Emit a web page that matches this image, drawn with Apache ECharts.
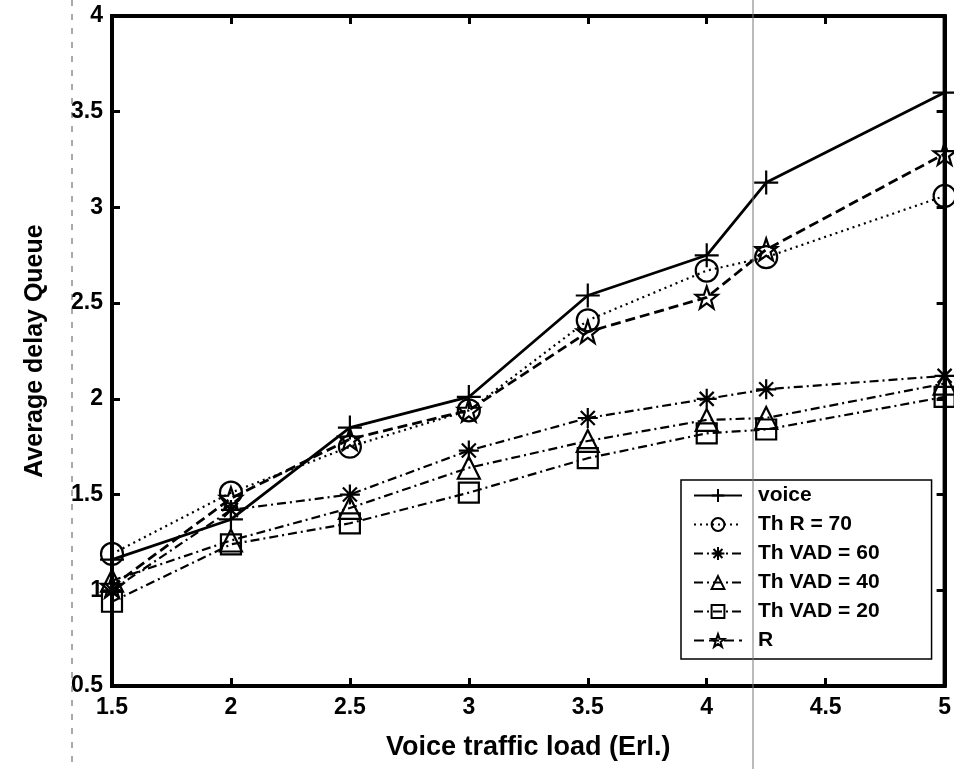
<!DOCTYPE html>
<html><head><meta charset="utf-8">
<script src="https://cdn.jsdelivr.net/npm/echarts@6/dist/echarts.min.js"></script>
<style>html,body{margin:0;padding:0;background:#fff}#c{width:954px;height:769px}</style>
</head><body><div id="c"></div>
<script>
const xValues = [1.5, 2, 2.5, 3, 3.5, 4, 4.25, 5];
const voice   = [1.16, 1.37, 1.85, 2.01, 2.54, 2.75, 3.13, 3.60];
const thR70   = [1.19, 1.51, 1.75, 1.94, 2.41, 2.67, 2.74, 3.06];
const thVAD60 = [1.00, 1.42, 1.50, 1.73, 1.90, 2.00, 2.05, 2.12];
const thVAD40 = [1.05, 1.26, 1.43, 1.64, 1.78, 1.89, 1.90, 2.08];
const thVAD20 = [0.94, 1.24, 1.35, 1.51, 1.69, 1.82, 1.84, 2.01];
const rSeries = [1.02, 1.48, 1.79, 1.94, 2.35, 2.53, 2.78, 3.28];
const seriesNames = ['voice', 'Th R = 70', 'Th VAD = 60', 'Th VAD = 40', 'Th VAD = 20', 'R'];
const xTicks = ['1.5','2','2.5','3','3.5','4','4.5','5'];

const PLUS = 'path://M5,0L5,10M0,5L10,5';
const AST = 'path://M5,0L5,10M0,5L10,5M1.5,1.5L8.5,8.5M8.5,1.5L1.5,8.5';
const STAR = 'path://M10,0L12.35,6.76L19.51,6.91L13.8,11.24L15.88,18.09L10,14L4.12,18.09L6.2,11.24L0.49,6.91L7.65,6.76Z';

function pts(arr){ return xValues.map((x,i)=>[x, arr[i]]); }
const dashDot = [9,4,2,4];
function mk(name, arr, lineType, lw, symbol, size, fill){
  return {
    name, type:'line', data: pts(arr), symbol, symbolSize: size,
    showAllSymbol: true,
    lineStyle:{color:'#000', width: lw, type: lineType},
    itemStyle:{color: fill, borderColor:'#000', borderWidth: 2.2},
    emphasis:{disabled:true}, z: 3
  };
}
const series = [
  mk(seriesNames[0], voice, 'solid', 2.8, PLUS, 24, 'none'),
  mk(seriesNames[1], thR70, [2,4], 2.2, 'circle', 22, 'rgba(255,255,255,0)'),
  mk(seriesNames[2], thVAD60, dashDot, 2.2, AST, 20, 'none'),
  mk(seriesNames[3], thVAD40, dashDot, 2.2, 'triangle', 22, 'rgba(255,255,255,0)'),
  mk(seriesNames[4], thVAD20, dashDot, 2.2, 'rect', 20, 'rgba(255,255,255,0)'),
  mk(seriesNames[5], rSeries, [10,5], 2.8, STAR, 22, 'rgba(255,255,255,0)')
];

const font = 'Liberation Sans, Arial, sans-serif';
const chart = echarts.init(document.getElementById('c'), null, {renderer:'canvas'});
const axisCommon = {
  type:'value', interval:0.5,
  axisLine:{show:true, lineStyle:{color:'#000', width:4}},
  axisTick:{show:true, inside:true, length:8, lineStyle:{color:'#000', width:3}},
  splitLine:{show:false}
};
chart.setOption({
  animation:false,
  backgroundColor:'#fff',
  grid:{left:112, right:4, top:16, bottom:83, show:true, borderColor:'#000', borderWidth:4},
  xAxis:[
    Object.assign({}, axisCommon, {min:1.5, max:5, position:'bottom',
      axisLabel:{fontFamily:font, fontWeight:'bold', fontSize:23, color:'#000', margin:10,
        formatter:(v)=>{const s=String(v); return xTicks.indexOf(s)>=0?s:'';}},
      name:'Voice traffic load (Erl.)', nameLocation:'middle', nameGap:48,
      nameTextStyle:{fontFamily:font, fontWeight:'bold', fontSize:27, color:'#000'}}),
    Object.assign({}, axisCommon, {min:1.5, max:5, position:'top', axisLabel:{show:false}})
  ],
  yAxis:[
    Object.assign({}, axisCommon, {min:0.5, max:4, position:'left',
      axisLabel:{fontFamily:font, fontWeight:'bold', fontSize:23, color:'#000', margin:9},
      name:'Average delay Queue', nameLocation:'middle', nameGap:64, nameRotate:90,
      nameTextStyle:{fontFamily:font, fontWeight:'bold', fontSize:25, color:'#000'}}),
    Object.assign({}, axisCommon, {min:0.5, max:4, position:'right', axisLabel:{show:false}})
  ],
  legend:{
    show:true, data: seriesNames, orient:'vertical', left:681, top:480,
    padding:[5,52,8,12], itemWidth:48, itemHeight:16, itemGap:8,
    backgroundColor:'#fff', borderColor:'#000', borderWidth:1.5,
    textStyle:{fontFamily:font, fontWeight:'bold', fontSize:21, color:'#000', padding:[0,0,0,11]}
  },
  graphic:[
    {type:'line', shape:{x1:753, y1:0, x2:753, y2:769}, style:{stroke:'#777', lineWidth:1}, z:10},
    {type:'line', shape:{x1:72, y1:0, x2:72, y2:769}, style:{stroke:'#555', lineWidth:1, lineDash:[6,8]}, z:10}
  ],
  series
});
</script></body></html>
